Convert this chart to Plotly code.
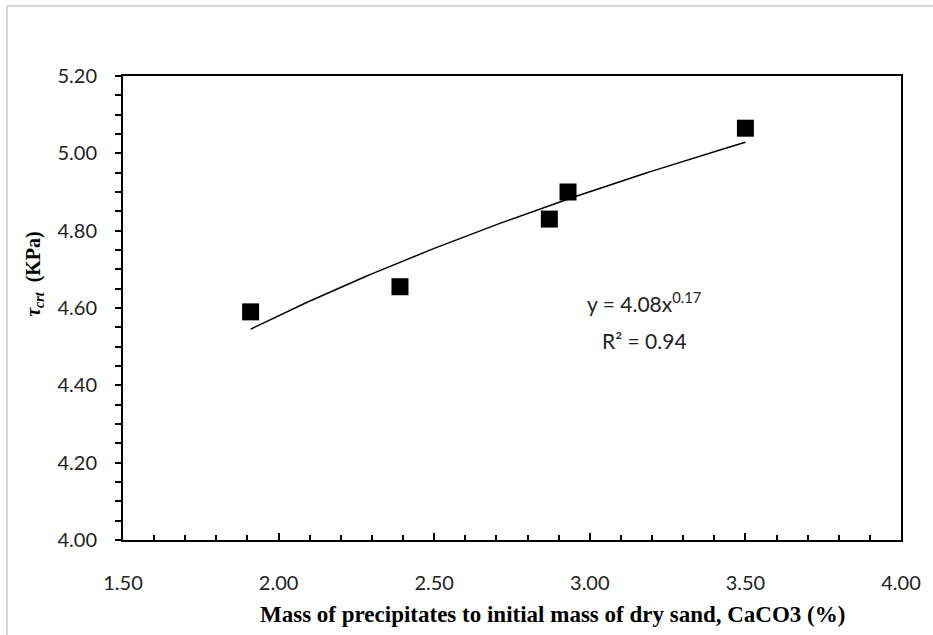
import numpy as np
import plotly.graph_objects as go

# Data
caco3_pct = [1.91, 2.39, 2.87, 2.93, 3.50]
tau_crt = [4.59, 4.655, 4.83, 4.90, 5.065]

x_ticks = [1.50, 2.00, 2.50, 3.00, 3.50, 4.00]
y_ticks = [4.00, 4.20, 4.40, 4.60, 4.80, 5.00, 5.20]

# Power trendline (Excel style: regression of ln y on ln x)
b, ln_a = np.polyfit(np.log(caco3_pct), np.log(tau_crt), 1)
a = np.exp(ln_a)
xs = np.linspace(min(caco3_pct), max(caco3_pct), 100)
ys = a * xs ** b

fig = go.Figure()
fig.add_trace(go.Scatter(x=xs, y=ys, mode="lines",
                         line=dict(color="black", width=1.5),
                         showlegend=False, hoverinfo="skip"))
fig.add_trace(go.Scatter(x=caco3_pct, y=tau_crt, mode="markers",
                         marker=dict(symbol="square", size=17, color="black"),
                         showlegend=False))

tickfont = dict(family="Lato", size=20, color="#222")

L, R, T, B = 123, 908, 76, 540
W, H = R - L, B - T


def px(x):
    return (x - L) / W


def py(y):
    return (B - y) / H


fig.update_layout(
    width=933, height=635,
    margin=dict(l=L, r=933 - R, t=T, b=635 - B),
    plot_bgcolor="white", paper_bgcolor="white",
    xaxis=dict(range=[1.5, 4.0], tickvals=x_ticks,
               ticktext=[f"{v:.2f}" for v in x_ticks],
               ticks="inside", ticklen=7, tickwidth=1.5, tickcolor="black",
               minor=dict(dtick=0.1, ticks="inside", ticklen=5, tickwidth=1.5, tickcolor="black"),
               showline=True, linecolor="black", linewidth=2, mirror=True,
               showgrid=False, zeroline=False, tickfont=tickfont,
               ticklabelstandoff=24),
    yaxis=dict(range=[4.0, 5.2], tickvals=y_ticks,
               ticktext=[f"{v:.2f}" for v in y_ticks],
               ticks="outside", ticklen=6, tickwidth=1.5, tickcolor="black",
               minor=dict(dtick=0.05, ticks="outside", ticklen=6, tickwidth=1.5, tickcolor="black"),
               showline=True, linecolor="black", linewidth=2, mirror=True,
               showgrid=False, zeroline=False, tickfont=tickfont,
               ticklabelstandoff=14),
    shapes=[dict(type="rect", xref="paper", yref="paper",
                 x0=px(6), x1=px(960), y0=py(680), y1=py(6),
                 line=dict(color="#d9d9d9", width=2), layer="below")],
    annotations=[
        dict(xref="paper", yref="paper", x=px(556), y=py(614),
             text="<b>Mass of precipitates to initial mass of dry sand, CaCO3 (%)</b>",
             showarrow=False, xanchor="center", yanchor="middle",
             font=dict(family="Liberation Serif", size=23, color="black")),
        dict(xref="paper", yref="paper", x=px(33), y=py(274),
             text="<b><i>τ<sub>crt</sub></i>  (KPa)</b>", textangle=-90,
             showarrow=False, xanchor="center", yanchor="middle",
             font=dict(family="Liberation Serif", size=20, color="black")),
        dict(xref="paper", yref="paper", x=px(649), y=py(302),
             text=f"y = {a:.2f}x<sup>{b:.2f}</sup>",
             showarrow=False, xanchor="center", yanchor="middle",
             font=dict(family="Lato", size=21, color="#222")),
        dict(xref="paper", yref="paper", x=px(649), y=py(340),
             text="R² = 0.94",
             showarrow=False, xanchor="center", yanchor="middle",
             font=dict(family="Lato", size=21, color="#222")),
    ],
)

fig.write_html("out.html")
